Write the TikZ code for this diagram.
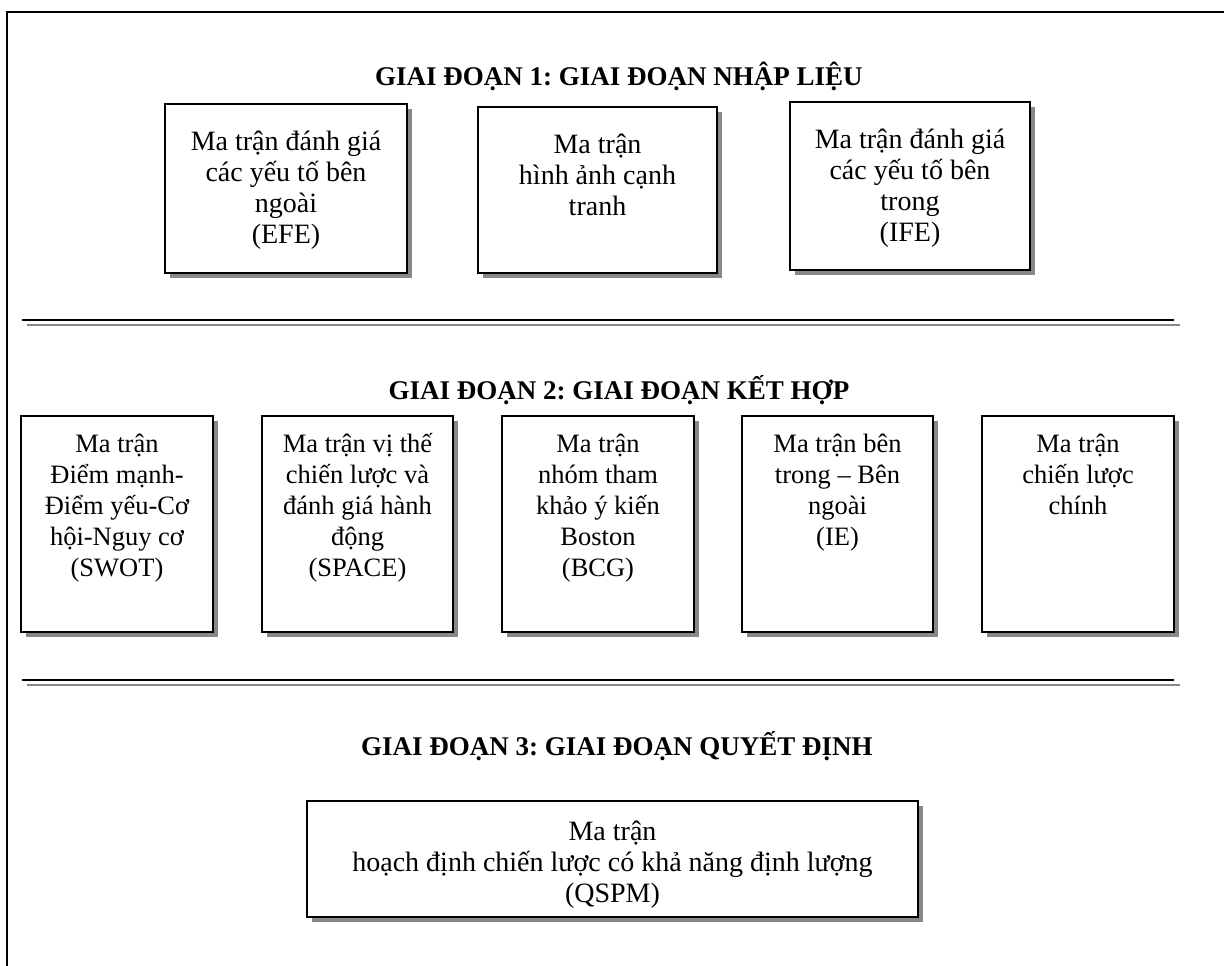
\documentclass[tikz,border=0pt]{standalone}
\usepackage{fontspec}
\setmainfont{Liberation Serif}
\usetikzlibrary{shadows}
\definecolor{shgray}{RGB}{136,136,136}
\frenchspacing
\begin{document}
\begin{tikzpicture}[x=1pt,y=-1pt,
  mbox/.style={draw, line width=1.8pt, fill=white, inner sep=0pt,
    drop shadow={shadow xshift=5pt, shadow yshift=-5pt, fill=shgray, opacity=1}},
  mtext/.style={anchor=north, inner sep=0pt, align=center, font=\fontsize{26.5}{31}\selectfont},
  mtextl/.style={anchor=north, inner sep=0pt, align=center, font=\fontsize{28}{31}\selectfont},
  ttl/.style={anchor=base, inner sep=0pt, font=\fontsize{27}{32}\selectfont\bfseries},
  sepblack/.style={line width=2.5pt, black},
  sepgray/.style={line width=2.5pt, shgray}]
\useasboundingbox (0,0) rectangle (1224,966);
\fill[white] (0,0) rectangle (1224,966);
% outer frame
\draw[line width=2pt] (1224,12) -- (7,12) -- (7,966);
% titles
\node[ttl] (t1) at (619,85) {GIAI ĐOẠN 1: GIAI ĐOẠN NHẬP LIỆU};
\node[ttl] (t2) at (619,399) {GIAI ĐOẠN 2: GIAI ĐOẠN KẾT HỢP};
\node[ttl] (t3) at (617,755) {GIAI ĐOẠN 3: GIAI ĐOẠN QUYẾT ĐỊNH};
% separators
\draw[sepgray] (27,325) -- (1180,325);
\draw[sepblack] (22,320) -- (1174,320);
\draw[sepgray] (27,685) -- (1180,685);
\draw[sepblack] (22,680) -- (1174,680);
% row 1
\node[mbox, minimum width=242pt, minimum height=169pt] (efe) at (286,188.5) {};
\node[mbox, minimum width=239pt, minimum height=166pt] (cpm) at (597.5,190) {};
\node[mbox, minimum width=240pt, minimum height=168pt] (ife) at (910,186) {};
\node[mtextl] (efet) at ([yshift=-25pt]efe.north) {\strut Ma trận đánh giá\\các yếu tố bên\\ngoài\\(EFE)};
\node[mtextl] (cpmt) at ([yshift=-25pt]cpm.north) {\strut Ma trận\\hình ảnh cạnh\\tranh};
\node[mtextl] (ifet) at ([yshift=-25pt]ife.north) {\strut Ma trận đánh giá\\các yếu tố bên\\trong\\(IFE)};
% row 2
\node[mbox, minimum width=192pt, minimum height=216pt] (swot) at (117,524) {};
\node[mbox, minimum width=191pt, minimum height=216pt] (space) at (357.5,524) {};
\node[mbox, minimum width=192pt, minimum height=216pt] (bcg) at (598,524) {};
\node[mbox, minimum width=191pt, minimum height=216pt] (ie) at (837.5,524) {};
\node[mbox, minimum width=192pt, minimum height=216pt] (gsm) at (1078,524) {};
\node[mtext] (swott) at ([yshift=-15pt]swot.north) {\strut Ma trận\\Điểm mạnh-\\Điểm yếu-Cơ\\hội-Nguy cơ\\(SWOT)};
\node[mtext] (spacet) at ([yshift=-15pt]space.north) {\strut Ma trận vị thế\\chiến lược và\\đánh giá hành\\động\\(SPACE)};
\node[mtext] (bcgt) at ([yshift=-15pt]bcg.north) {\strut Ma trận\\nhóm tham\\khảo ý kiến\\Boston\\(BCG)};
\node[mtext] (iet) at ([yshift=-15pt]ie.north) {\strut Ma trận bên\\trong – Bên\\ngoài\\(IE)};
\node[mtext] (gsmt) at ([yshift=-15pt]gsm.north) {\strut Ma trận\\chiến lược\\chính};
% row 3
\node[mbox, minimum width=611pt, minimum height=116pt] (qspm) at (612.5,859) {};
\node[mtextl] (qspmt) at ([yshift=-18pt]qspm.north) {\strut Ma trận\\hoạch định chiến lược có khả năng định lượng\\(QSPM)};
\end{tikzpicture}
\end{document}
